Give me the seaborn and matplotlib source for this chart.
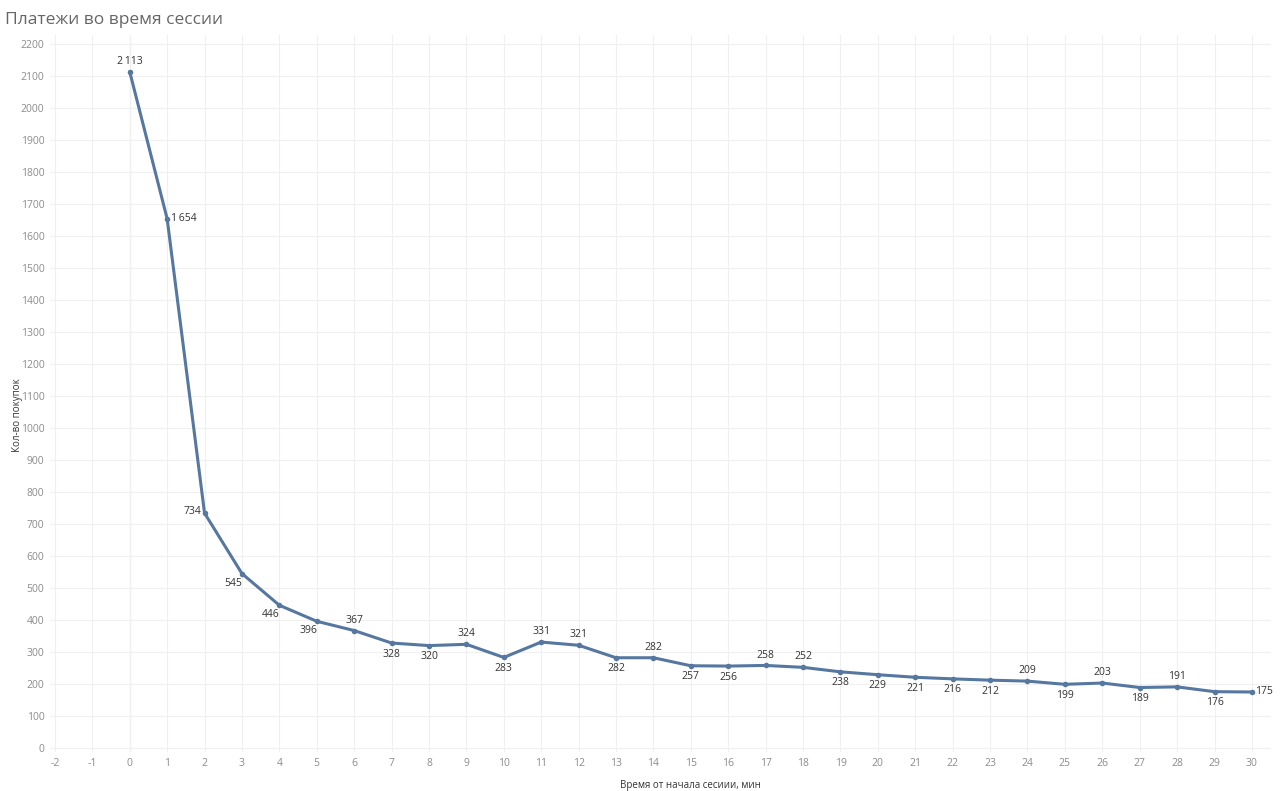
import matplotlib.pyplot as plt
import seaborn as sns
import pandas as pd

minutes = list(range(0, 31))
purchases = [2113, 1654, 734, 545, 446, 396, 367, 328, 320, 324, 283, 331, 321, 282, 282,
             257, 256, 258, 252, 238, 229, 221, 216, 212, 209, 199, 203, 189, 191, 176, 175]
# where each value label sits relative to its point
label_pos = ["above", "right", "left", "downleft", "downleft", "downleft", "above", "below",
             "below", "above", "below", "above", "above", "below", "above", "below", "below",
             "above", "above", "below", "below", "below", "below", "below", "above", "below",
             "above", "below", "above", "below", "right"]

df = pd.DataFrame({"minute": minutes, "count": purchases})

sns.set_style("white")
plt.rcParams["font.family"] = ["Open Sans", "DejaVu Sans"]
plt.rcParams["axes.unicode_minus"] = False

fig = plt.figure(figsize=(12.8, 7.91), dpi=100)
ax = fig.add_axes([0.0391, 0.0493, 0.953, 0.9065])

sns.lineplot(data=df, x="minute", y="count", ax=ax, color="#5677a0", linewidth=2.2,
             marker="o", markersize=4, markeredgewidth=0)

ax.set_xlim(-2.13, 30.48)
ax.set_ylim(-12.5, 2228)
ax.set_xticks(range(-2, 31))
ax.set_yticks(range(0, 2201, 100))
ax.grid(True, color="#f0f0f0", linewidth=0.8)
ax.axvline(0, color="#d8d8d8", linewidth=0.8, zorder=0)
for s in ax.spines.values():
    s.set_visible(False)
ax.tick_params(axis="both", labelsize=7.5, labelcolor="#8c8c8c", length=0, pad=4)

ax.set_xlabel("Время от начала сесиии, мин", fontsize=7, color="#333333")
ax.xaxis.set_label_coords(0.525, -0.039)
ax.set_ylabel("Кол-во покупок", fontsize=7, color="#333333")
ax.yaxis.set_label_coords(-0.022, 0.47)

offsets = {"above": (0, 7.5, "center"), "below": (0, -8, "center"),
           "right": (2.5, 0, "left"), "left": (-2, 1.5, "right"),
           "downleft": (-6, -7, "center")}
for x, y, p in zip(minutes, purchases, label_pos):
    dx, dy, ha = offsets[p]
    txt = f"{y:,}".replace(",", "\u2009")
    ax.annotate(txt, (x, y), xytext=(dx, dy), textcoords="offset points",
                ha=ha, va="center", fontsize=7.5, color="#333333")

fig.text(0.004, 0.975, "Платежи во время сессии", fontsize=12.5, color="#666666",
         ha="left", va="center")

fig.savefig("out.png", dpi=100)
